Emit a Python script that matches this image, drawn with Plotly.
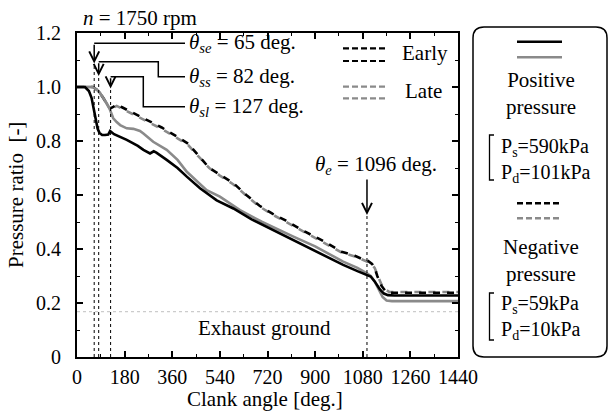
import plotly.graph_objects as go

# ---------------- data ----------------
x_early_pos = [0, 30, 45, 55, 62, 70, 78, 85, 95, 106, 118, 125, 140, 188, 230, 251, 276, 290, 300, 339, 380, 415, 465, 528, 591, 660, 742, 820, 893, 950, 1006, 1060, 1096, 1110, 1125, 1145, 1160, 1175, 1200, 1440]
y_early_pos = [1.0, 1.0, 0.985, 0.96, 0.925, 0.88, 0.845, 0.83, 0.822, 0.822, 0.824, 0.837, 0.825, 0.804, 0.782, 0.767, 0.754, 0.762, 0.757, 0.73, 0.70, 0.668, 0.625, 0.58, 0.55, 0.51, 0.47, 0.433, 0.396, 0.368, 0.341, 0.318, 0.304, 0.298, 0.28, 0.25, 0.235, 0.229, 0.228, 0.228]

x_late_pos = [0, 60, 75, 85, 100, 112, 125, 132, 137, 150, 163, 188, 213, 238, 251, 288, 339, 380, 415, 490, 540, 616, 700, 818, 900, 1006, 1060, 1096, 1110, 1125, 1140, 1155, 1170, 1190, 1440]
y_late_pos = [1.0, 1.0, 0.99, 0.98, 0.958, 0.94, 0.915, 0.9, 0.884, 0.87, 0.859, 0.847, 0.845, 0.837, 0.828, 0.797, 0.767, 0.73, 0.686, 0.618, 0.594, 0.544, 0.50, 0.446, 0.41, 0.353, 0.33, 0.31, 0.30, 0.28, 0.25, 0.222, 0.209, 0.207, 0.207]

x_early_neg = [0, 60, 75, 85, 100, 112, 125, 135, 150, 170, 190, 250, 320, 380, 420, 460, 500, 540, 590, 640, 690, 740, 790, 860, 930, 1000, 1050, 1080, 1100, 1115, 1125, 1135, 1150, 1165, 1180, 1440]
y_early_neg = [1.0, 1.0, 0.99, 0.98, 0.958, 0.94, 0.92, 0.925, 0.935, 0.925, 0.915, 0.885, 0.85, 0.815, 0.79, 0.745, 0.70, 0.675, 0.645, 0.60, 0.56, 0.53, 0.505, 0.465, 0.43, 0.39, 0.375, 0.362, 0.356, 0.345, 0.33, 0.30, 0.265, 0.245, 0.238, 0.238]

x_late_neg = [0, 60, 75, 85, 100, 112, 125, 135, 150, 170, 190, 250, 320, 380, 420, 460, 500, 540, 590, 640, 690, 740, 790, 860, 930, 1000, 1050, 1080, 1100, 1115, 1125, 1135, 1150, 1165, 1180, 1440]
y_late_neg = [1.0, 1.0, 0.99, 0.98, 0.958, 0.94, 0.918, 0.922, 0.93, 0.92, 0.91, 0.88, 0.845, 0.81, 0.785, 0.742, 0.70, 0.672, 0.64, 0.598, 0.557, 0.527, 0.50, 0.462, 0.425, 0.387, 0.372, 0.36, 0.352, 0.342, 0.33, 0.305, 0.27, 0.25, 0.241, 0.241]

x_ticks = [0, 180, 360, 540, 720, 900, 1080, 1260, 1440]
y_ticks = [0, 0.2, 0.4, 0.6, 0.8, 1.0, 1.2]
y_tick_labels = ["0", "0.2", "0.4", "0.6", "0.8", "1.0", "1.2"]

theta_s_values = [65, 82, 127]
theta_s_names = ["se", "ss", "sl"]
theta_e_value = 1096
exhaust_ground = 0.168

# ---------------- layout geometry (pixels) ----------------
W, H = 608, 412
L, R, T, B = 77, 458, 33, 357
FONT = "Liberation Serif, Times New Roman, serif"
FS = 21
BLACK = "#000000"
GRAY = "#8a8a8a"


def pxx(p):
    return (p - L) / (R - L)


def pxy(p):
    return (B - p) / (B - T)


def yd(p):  # pixel y -> data y
    return (B - p) / (B - T) * 1.2


fig = go.Figure()

fig.add_trace(go.Scatter(x=x_late_neg, y=y_late_neg, mode="lines",
                         line=dict(color=GRAY, width=2.6, dash="0px,7px,7px,0px"), showlegend=False))
fig.add_trace(go.Scatter(x=x_early_neg, y=y_early_neg, mode="lines",
                         line=dict(color=BLACK, width=2.6, dash="7px,7px"), showlegend=False))
fig.add_trace(go.Scatter(x=x_late_pos, y=y_late_pos, mode="lines",
                         line=dict(color=GRAY, width=2.6), showlegend=False))
fig.add_trace(go.Scatter(x=x_early_pos, y=y_early_pos, mode="lines",
                         line=dict(color=BLACK, width=2.6), showlegend=False))

shapes = []
annotations = []

# exhaust ground dotted line
shapes.append(dict(type="line", xref="x", yref="y", x0=0, x1=1440, y0=exhaust_ground, y1=exhaust_ground,
                   line=dict(color="#cccccc", width=1.2, dash="dot"), layer="below"))
annotations.append(dict(x=707, y=0.107, xref="x", yref="y", text="Exhaust ground", showarrow=False,
                        font=dict(family=FONT, size=FS, color=BLACK)))

# theta_s connectors
tail_px = [43.3, 61.7, 76.7]
tip_px = [63.5, 76.0, 88.5]
label_px = [43.3, 76.7, 106.7]
elbow_px = [None, 158.3, 143.3]
label_x_deg = (185 - L) / (R - L) * 1440
for i, th in enumerate(theta_s_values):
    ty = yd(tail_px[i])
    tipy = yd(tip_px[i])
    ly = yd(label_px[i])
    shapes.append(dict(type="line", xref="x", yref="y", x0=th, x1=th, y0=0, y1=tipy,
                       line=dict(color=BLACK, width=1, dash="dot")))
    if elbow_px[i] is None:
        path = f"M {th},{ty} L {label_x_deg},{ty}"
    else:
        ex = (elbow_px[i] - L) / (R - L) * 1440
        path = f"M {th},{ty} L {ex},{ty} L {ex},{ly} L {label_x_deg},{ly}"
    shapes.append(dict(type="path", xref="x", yref="y", path=path, line=dict(color=BLACK, width=1.5)))
    annotations.append(dict(x=th, y=tipy, ax=th, ay=ty, xref="x", yref="y", axref="x", ayref="y",
                            text="", showarrow=True, arrowhead=5, arrowsize=1.3, arrowwidth=1.5,
                            arrowcolor=BLACK))
    annotations.append(dict(x=label_x_deg + 6, y=ly, xref="x", yref="y", xanchor="left", yanchor="middle",
                            text=f"<i>θ</i><sub><i>{theta_s_names[i]}</i></sub> = {th} deg.", showarrow=False,
                            font=dict(family=FONT, size=FS, color=BLACK)))

# theta_e
te_tail = yd(178)
te_tip = yd(215)
shapes.append(dict(type="line", xref="x", yref="y", x0=theta_e_value, x1=theta_e_value, y0=0, y1=te_tip,
                   line=dict(color=BLACK, width=1, dash="dot")))
annotations.append(dict(x=theta_e_value, y=te_tip, ax=theta_e_value, ay=te_tail, xref="x", yref="y",
                        axref="x", ayref="y", text="", showarrow=True, arrowhead=5, arrowsize=1.3,
                        arrowwidth=1.5, arrowcolor=BLACK))
annotations.append(dict(x=pxx(376), y=pxy(165), xref="paper", yref="paper", xanchor="center", yanchor="middle",
                        text=f"<i>θ</i><sub><i>e</i></sub> = {theta_e_value} deg.", showarrow=False,
                        font=dict(family=FONT, size=FS, color=BLACK)))

# in-plot legend (Early / Late)
for yp, col in [(48.3, BLACK), (61.0, BLACK), (86.7, GRAY), (98.3, GRAY)]:
    shapes.append(dict(type="line", xref="paper", yref="paper", x0=pxx(343), x1=pxx(388), y0=pxy(yp), y1=pxy(yp),
                       line=dict(color=col, width=2.2, dash="6px,3px")))
annotations.append(dict(x=pxx(400), y=pxy(53.5), xref="paper", yref="paper", xanchor="left", yanchor="middle",
                        text="Early", showarrow=False, font=dict(family=FONT, size=FS, color=BLACK)))
annotations.append(dict(x=pxx(403), y=pxy(90.5), xref="paper", yref="paper", xanchor="left", yanchor="middle",
                        text="Late", showarrow=False, font=dict(family=FONT, size=FS, color=BLACK)))

# right legend box
x0, x1, y0, y1 = pxx(473), pxx(607), pxy(357), pxy(27)
rx, ry = 11 / (R - L), 11 / (B - T)
box = (f"M {x0+rx},{y1} L {x1-rx},{y1} Q {x1},{y1} {x1},{y1-ry} L {x1},{y0+ry} Q {x1},{y0} {x1-rx},{y0} "
       f"L {x0+rx},{y0} Q {x0},{y0} {x0},{y0+ry} L {x0},{y1-ry} Q {x0},{y1} {x0+rx},{y1} Z")
shapes.append(dict(type="path", xref="paper", yref="paper", path=box, line=dict(color=BLACK, width=1.5)))

for yp, col, dash in [(41.7, BLACK, "solid"), (57.3, GRAY, "solid"), (203.3, BLACK, "6px,3px"), (218.3, GRAY, "6px,3px")]:
    shapes.append(dict(type="line", xref="paper", yref="paper", x0=pxx(517), x1=pxx(562), y0=pxy(yp), y1=pxy(yp),
                       line=dict(color=col, width=2.4, dash=dash)))

for txt, yp in [("Positive<br>pressure", 93.3), ("Negative<br>pressure", 260.8)]:
    annotations.append(dict(x=pxx(541), y=pxy(yp), xref="paper", yref="paper", xanchor="center", yanchor="middle",
                            text=txt, showarrow=False, font=dict(family=FONT, size=FS, color=BLACK)))

for txt, yp in [("P<sub>s</sub>=590kPa<br>P<sub>d</sub>=101kPa", 160),
                ("P<sub>s</sub>=59kPa<br>P<sub>d</sub>=10kPa", 317)]:
    annotations.append(dict(x=pxx(499), y=pxy(yp), xref="paper", yref="paper", xanchor="left", yanchor="middle",
                            align="left", text=txt, showarrow=False, font=dict(family=FONT, size=20, color=BLACK)))

for ytop, ybot in [(135, 180), (293, 340)]:
    shapes.append(dict(type="path", xref="paper", yref="paper",
                       path=f"M {pxx(494)},{pxy(ytop)} L {pxx(489.5)},{pxy(ytop)} L {pxx(489.5)},{pxy(ybot)} L {pxx(494)},{pxy(ybot)}",
                       line=dict(color=BLACK, width=1.3)))

# titles
annotations.append(dict(x=pxx(81), y=pxy(18), xref="paper", yref="paper", xanchor="left", yanchor="middle",
                        text="<i>n</i> = 1750 rpm", showarrow=False, font=dict(family=FONT, size=FS, color=BLACK)))
annotations.append(dict(x=pxx(265), y=pxy(399), xref="paper", yref="paper", xanchor="center", yanchor="middle",
                        text="Clank angle [deg.]", showarrow=False, font=dict(family=FONT, size=FS, color=BLACK)))
annotations.append(dict(x=pxx(16), y=pxy(195), xref="paper", yref="paper", xanchor="center", yanchor="middle",
                        text="Pressure ratio  [-]", textangle=-90, showarrow=False,
                        font=dict(family=FONT, size=FS, color=BLACK)))

fig.update_layout(
    width=W, height=H,
    margin=dict(l=L, r=W - R, t=T, b=H - B, pad=0),
    paper_bgcolor="white", plot_bgcolor="white",
    font=dict(family=FONT, size=FS, color=BLACK),
    shapes=shapes, annotations=annotations, showlegend=False,
)
fig.update_xaxes(range=[0, 1440], tickvals=x_ticks, ticktext=[str(v) for v in x_ticks],
                 showline=True, linecolor=BLACK, linewidth=2, mirror="ticks",
                 ticks="inside", ticklen=6, tickwidth=1.5, tickcolor=BLACK,
                 minor=dict(ticks="inside", dtick=90, ticklen=3, tickcolor=BLACK, tickwidth=1),
                 showgrid=False, zeroline=False, ticklabelstandoff=1,
                 tickfont=dict(family=FONT, size=20, color=BLACK))
fig.update_yaxes(range=[0, 1.2], tickvals=y_ticks, ticktext=y_tick_labels,
                 showline=True, linecolor=BLACK, linewidth=2, mirror="ticks",
                 ticks="inside", ticklen=6, tickwidth=1.5, tickcolor=BLACK,
                 minor=dict(ticks="inside", dtick=0.1, ticklen=3, tickcolor=BLACK, tickwidth=1),
                 showgrid=False, zeroline=False, ticklabelstandoff=10,
                 tickfont=dict(family=FONT, size=20, color=BLACK))

fig.write_html("out.html", config={"displayModeBar": False},
               post_script="document.body.style.margin='0px';")
